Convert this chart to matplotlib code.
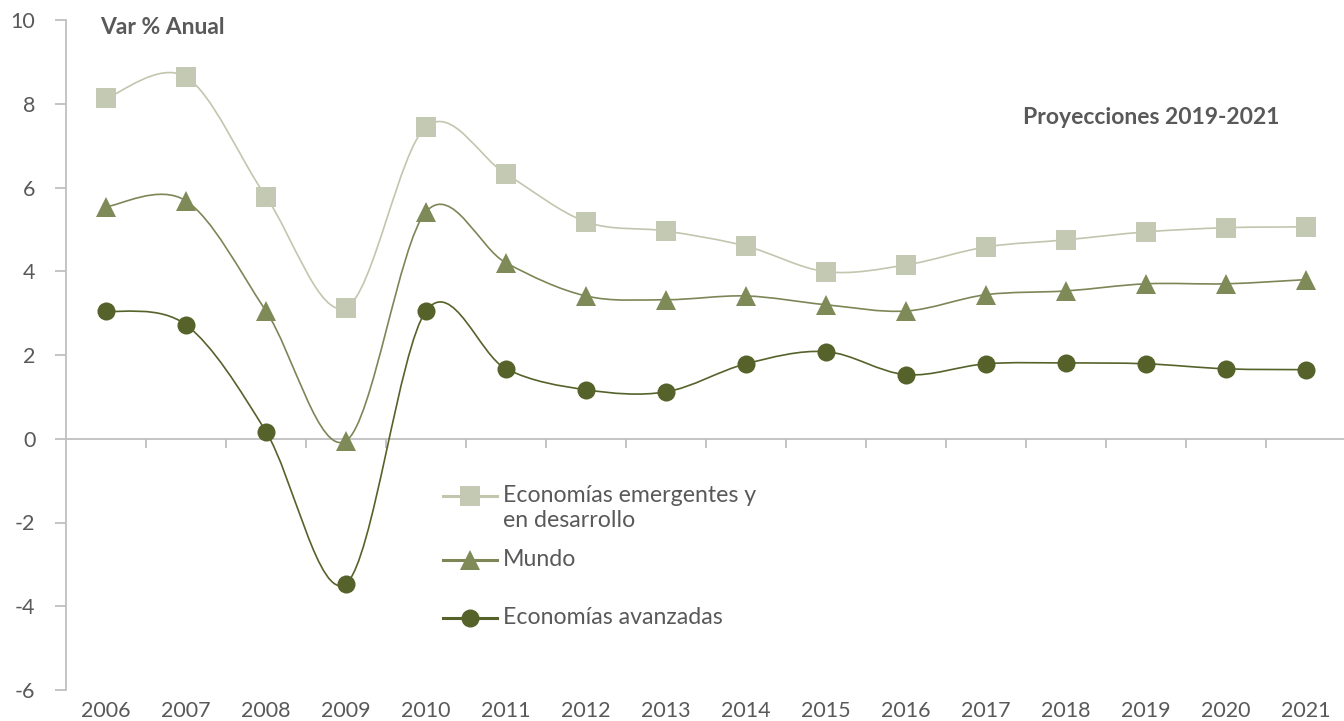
import numpy as np
import matplotlib
matplotlib.use("Agg")
import matplotlib.pyplot as plt
from matplotlib.path import Path
from matplotlib.patches import PathPatch
from matplotlib.lines import Line2D

plt.rcParams['font.family'] = ['Lato', 'DejaVu Sans']
plt.rcParams['axes.unicode_minus'] = False

# --- data ---
years = [2006, 2007, 2008, 2009, 2010, 2011, 2012, 2013,
         2014, 2015, 2016, 2017, 2018, 2019, 2020, 2021]
emergentes = [8.13, 8.64, 5.78, 3.13, 7.45, 6.32, 5.18, 4.96,
              4.60, 3.99, 4.15, 4.58, 4.75, 4.94, 5.04, 5.06]
mundo = [5.54, 5.68, 3.05, -0.05, 5.42, 4.20, 3.41, 3.32,
         3.41, 3.20, 3.05, 3.44, 3.53, 3.70, 3.70, 3.80]
avanzadas = [3.05, 2.72, 0.17, -3.46, 3.05, 1.67, 1.17, 1.12,
             1.79, 2.08, 1.53, 1.79, 1.81, 1.79, 1.67, 1.65]
y_ticks = [-6, -4, -2, 0, 2, 4, 6, 8, 10]

labels = ["Economías emergentes y\nen desarrollo", "Mundo", "Economías avanzadas"]
series = [emergentes, mundo, avanzadas]
line_colors = ["#C2C6AE", "#7C8656", "#55622A"]
marker_colors = ["#C4C9B3", "#7F8A59", "#55622A"]
markers = ["s", "^", "o"]
msizes = [14, 14, 13]

TXT = "#595959"
GRID = "#BFBFBF"


def smooth_path(xs, ys):
    # Excel-style smoothed line: cubic Bezier through the points
    pts = np.column_stack([xs, ys]).astype(float)
    n = len(pts)
    verts = [pts[0]]
    codes = [Path.MOVETO]
    for i in range(n - 1):
        p0 = pts[i - 1] if i > 0 else pts[i]
        p1 = pts[i]
        p2 = pts[i + 1]
        p3 = pts[i + 2] if i + 2 < n else pts[i + 1]
        verts += [p1 + (p2 - p0) / 6, p2 - (p3 - p1) / 6, p2]
        codes += [Path.CURVE4] * 3
    return Path(verts, codes)


W, H = 1344, 721
fig = plt.figure(figsize=(W / 100, H / 100), dpi=100)
ax = fig.add_axes([66 / W, (H - 690) / H, 1280 / W, 670 / H])

x = np.arange(len(years))
ax.set_xlim(-0.5, len(years) - 0.5)
ax.set_ylim(-6, 10)

# zero line with category boundary ticks
ax.axhline(0, color=GRID, lw=1.3, zorder=1)
ax.vlines(x[:-1] + 0.5, -0.21, 0, color=GRID, lw=1.3, zorder=1)

for ys, lc, mc, mk, ms in zip(series, line_colors, marker_colors, markers, msizes):
    ax.add_patch(PathPatch(smooth_path(x, ys), fill=False, edgecolor=lc,
                           lw=1.2, zorder=2))
    ax.plot(x, ys, linestyle="none", marker=mk, ms=ms, color=mc,
            markeredgewidth=0, zorder=3)

for s in ["top", "right", "bottom"]:
    ax.spines[s].set_visible(False)
ax.spines["left"].set_color(GRID)
ax.spines["left"].set_linewidth(1.3)

ax.set_yticks(y_ticks)
ax.set_yticklabels([str(v) for v in y_ticks])
ax.set_xticks(x)
ax.set_xticklabels([str(y) for y in years])
ax.tick_params(axis="y", direction="out", length=8, width=1.3, color=GRID,
               labelcolor=TXT, labelsize=15.5, pad=14)
ax.tick_params(axis="x", length=0, labelcolor=TXT, labelsize=15.5, pad=8)

# text annotations
fig.text(100 / W, 1 - 27 / H, "Var % Anual", fontsize=16.5, fontweight="bold",
         color=TXT, va="center", ha="left")
fig.text(1279 / W, 1 - 118 / H, "Proyecciones 2019-2021", fontsize=16.5,
         fontweight="bold", color=TXT, va="center", ha="right")

# legend (manual, to follow the Excel layout)
leg_y = [496, 560, 618]
for lab, lc, mc, mk, ms, yy in zip(labels, line_colors, marker_colors, markers,
                                   msizes, leg_y):
    fy = 1 - yy / H
    fig.add_artist(Line2D([443 / W, 497 / W], [fy, fy], color=lc, lw=2.2))
    fig.add_artist(Line2D([470 / W], [fy], marker=mk, ms=ms, color=mc,
                          markeredgewidth=0, linestyle="none"))
    fig.text(503 / W, fy + 11 / H, lab, fontsize=16.7, color=TXT,
             va="top", ha="left", linespacing=1.25)

fig.savefig("out.png", dpi=100)
